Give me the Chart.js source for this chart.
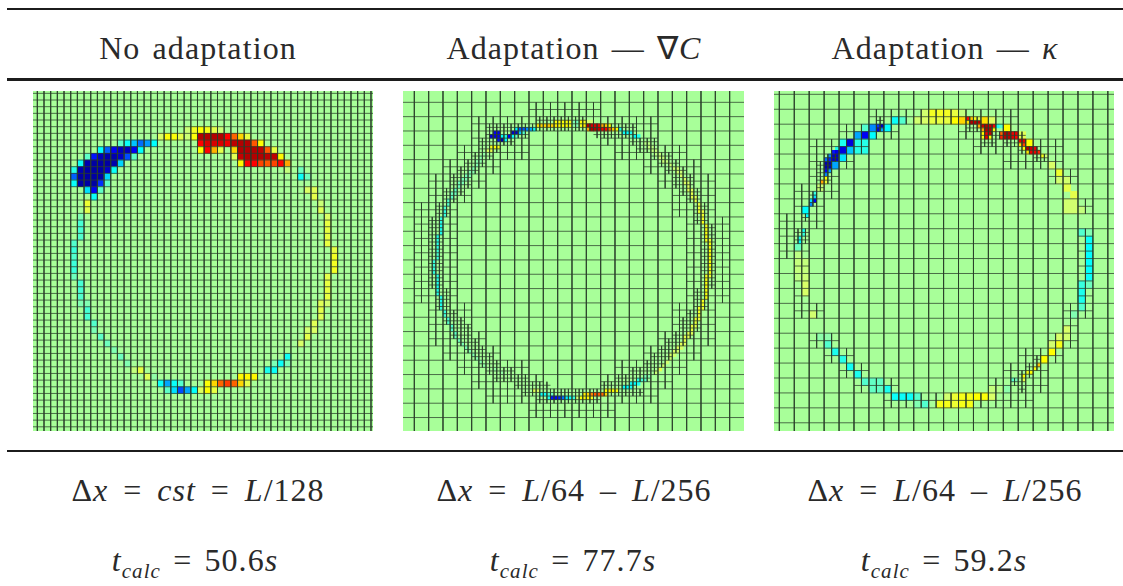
<!DOCTYPE html>
<html>
<head>
<meta charset="utf-8">
<title>Adaptation</title>
<script src="https://cdn.jsdelivr.net/npm/chart.js@4/dist/chart.umd.js"></script>
<style>
  html, body { margin: 0; padding: 0; background: #fff; }
  body { position: relative; width: 1123px; height: 586px; overflow: hidden; font-family: "Liberation Serif", serif; color: #2a2a2a; }
  .rule { position: absolute; left: 7px; right: 0; background: #1c1c1c; }
  canvas { position: absolute; background: #a8ff99; }
  .t { position: absolute; white-space: nowrap; transform: translateX(-50%); font-size: 32px; line-height: 36px; letter-spacing: 1.1px; word-spacing: 3px; }
  .m { word-spacing: 6px; letter-spacing: 1px; }
  .t sub { font-size: 21px; line-height: 0; font-style: italic; }
</style>
</head>
<body>
<div class="rule" style="top:8px;height:2px"></div>
<div class="rule" style="top:78px;height:3px"></div>
<div class="rule" style="top:450px;height:2px"></div>

<div class="t" style="left:198px;top:30px">No adaptation</div>
<div class="t" style="left:574px;top:30px">Adaptation — ∇<i>C</i></div>
<div class="t" style="left:945px;top:30px">Adaptation — <i>κ</i></div>

<div class="t m" style="left:198px;top:472px">Δ<i>x</i> = <i>cst</i> = <i>L</i>/128</div>
<div class="t m" style="left:574px;top:472px">Δ<i>x</i> = <i>L</i>/64 – <i>L</i>/256</div>
<div class="t m" style="left:945px;top:472px">Δ<i>x</i> = <i>L</i>/64 – <i>L</i>/256</div>

<div class="t" style="left:195px;top:542px"><i>t</i><sub>calc</sub> = 50.6<i>s</i></div>
<div class="t" style="left:573px;top:542px"><i>t</i><sub>calc</sub> = 77.7<i>s</i></div>
<div class="t" style="left:944px;top:542px"><i>t</i><sub>calc</sub> = 59.2<i>s</i></div>

<canvas id="uniform" width="340" height="340" style="left:33px;top:91px"></canvas>
<canvas id="gradC" width="341" height="340" style="left:403px;top:91px"></canvas>
<canvas id="kappa" width="340" height="340" style="left:774px;top:91px"></canvas>

<script>
// cells are [col, row, value], value -1 (dark blue) .. 0 (background) .. 1 (dark red)
const uniformCells = [
  [22,5,.1],[23,5,.28],[24,5,.35],[25,5,.3],[26,5,.2],[27,5,.1],
  [18,6,.15],[19,6,.33],[20,6,.33],[21,6,.2],[22,6,.1],[23,6,.33],[24,6,.95],[25,6,.95],[26,6,.95],[27,6,.95],[28,6,.75],[29,6,.6],[30,6,.42],[31,6,.22],
  [12,7,-.18],[13,7,-.33],[14,7,-.45],[15,7,-.6],[16,7,-.52],[17,7,-.35],[24,7,.75],[25,7,.85],[26,7,.85],[27,7,.85],[28,7,.8],[29,7,.92],[30,7,.95],[31,7,.95],[32,7,.62],[33,7,.35],
  [9,8,-.35],[10,8,-.62],[11,8,-.8],[12,8,-.92],[13,8,-.92],[14,8,-.8],[15,8,-.35],[24,8,.35],[25,8,.75],[26,8,.48],[27,8,.2],[29,8,.42],[30,8,.95],[31,8,.95],[32,8,.95],[33,8,.92],[34,8,.62],[35,8,.22],
  [7,9,-.18],[8,9,-.75],[9,9,-.92],[10,9,-.95],[11,9,-.95],[12,9,-.9],[13,9,-.65],[14,9,-.18],[29,9,.18],[30,9,.9],[31,9,.95],[32,9,.95],[33,9,.95],[34,9,.93],[35,9,.92],[36,9,.36],
  [6,10,-.33],[7,10,-.95],[8,10,-.97],[9,10,-.97],[10,10,-.97],[11,10,-.95],[12,10,-.42],[30,10,.36],[31,10,.75],[32,10,.75],[33,10,.65],[34,10,.62],[35,10,.65],[36,10,.75],[37,10,.5],
  [5,11,-.28],[6,11,-.95],[7,11,-.97],[8,11,-.97],[9,11,-.97],[10,11,-.9],[11,11,-.33],[37,11,.08],[39,11,-.15],
  [5,12,-.62],[6,12,-.97],[7,12,-.97],[8,12,-.97],[9,12,-.97],[10,12,-.42],[39,12,-.33],[40,12,-.15],
  [5,13,-.33],[6,13,-.97],[7,13,-.97],[8,13,-.97],[9,13,-.7],[10,13,-.18],
  [7,14,-.4],[8,14,-.8],[9,14,-.18],[40,14,.15],[41,14,.18],
  [8,15,-.33],[41,15,.2],
  [7,16,.25],[42,16,.1],[7,17,.2],[42,17,.18],
  [6,18,-.1],[43,18,.15],[6,19,-.22],[43,19,.22],[6,20,-.22],[43,20,.22],[6,21,-.2],[43,21,.22],
  [5,22,-.2],[43,22,.22],[5,23,-.24],[44,23,.22],[5,24,-.2],[44,24,.28],[5,25,-.24],[44,25,.28],[5,26,-.24],[44,26,.28],
  [5,27,-.15],[43,27,.2],[6,28,-.22],[43,28,.22],[6,29,-.22],[43,29,.22],[6,30,-.2],[43,30,.22],
  [6,31,-.1],[7,31,-.1],[42,31,.18],[43,31,.12],[7,32,-.22],[42,32,.2],[7,33,-.22],[42,33,.18],
  [8,34,-.2],[41,34,.18],[8,35,-.12],[41,35,.15],[40,35,.12],[9,36,-.18],[40,36,.2],[10,37,-.15],[39,37,.14],
  [11,38,-.1],[12,39,-.15],[37,39,-.32],[13,40,-.1],[35,40,-.12],[36,40,-.33],[37,40,-.12],
  [14,41,.08],[15,41,.22],[34,41,-.3],[35,41,-.33],
  [16,42,.18],[17,42,-.06],[30,42,.36],[31,42,.36],[32,42,.36],
  [18,43,-.33],[19,43,-.5],[20,43,-.33],[21,43,-.2],[25,43,.34],[26,43,.42],[27,43,.6],[28,43,.66],[29,43,.6],[30,43,.42],[31,43,.2],
  [19,44,-.18],[20,44,-.4],[21,44,-.65],[22,44,-.5],[23,44,-.34],[24,44,.16],[25,44,.34],[26,44,.22]
];

// gradient panel: columns and rows counted in finest cells, four to a base cell
const gradCells = [
  [39,5,.33],[40,5,.33],[41,5,.33],[42,5,.33],[43,5,.3],[44,5,-.1],[45,5,-.15],[46,5,.35],[47,5,.3],[48,5,.12],[49,5,.1],
  [34,6,.4],[35,6,.42],[36,6,.42],[37,6,.45],[38,6,.42],[39,6,.38],[40,6,.35],[41,6,.35],[42,6,.35],[43,6,.3],[44,6,-.05],[45,6,-.1],[46,6,.3],[47,6,.38],[48,6,.95],[49,6,.85],[50,6,.85],[51,6,.8],[52,6,.5],[53,6,.45],[54,6,.35],
  [28,7,-.35],[29,7,-.65],[30,7,-.65],[31,7,-.55],[32,7,-.5],[33,7,-.35],[48,7,.5],[49,7,.95],[50,7,.95],[51,7,.9],[52,7,.78],[53,7,.75],[54,7,.6],[55,7,.45],[56,7,.35],[57,7,-.3],
  [22,8,-.8],[23,8,-.8],[27,8,-.9],[28,8,-.9],[29,8,-.45],[30,8,-.2],[58,8,-.33],[59,8,-.35],[60,8,-.3],
  [21,9,-.85],[22,9,-.85],[23,9,-.8],[24,9,-.35],[25,9,-.3],[26,9,-.8],[27,9,-.35],[28,9,-.15],[60,9,-.15],[61,9,-.35],[62,9,-.3],
  [23,10,-.75],[24,10,-.95],[25,10,-.35],
  [21,12,.3],[22,12,.35],[23,12,.3],[20,13,.15],[21,13,.2]
];
const gradRingLeft = [
  [19,14,-.06],[18,15,-.08],[17,16,-.08],[18,16,-.06],[17,17,-.1],[16,18,-.1],[15,19,-.1],[16,19,-.08],[14,20,-.12],[15,20,-.1],[13,21,-.12],[14,21,-.1],[12,22,-.14],[13,22,-.12],[12,23,-.15],[11,24,-.18],[10,25,-.15],[11,25,-.15],[10,26,-.18],[9,27,-.2],[9,28,-.2],[8,29,-.22],[8,30,-.26],[8,31,-.25],[7,32,-.26],[7,33,-.28],[7,34,-.3],[7,35,-.3],[7,36,-.3],[6,37,-.28],[6,38,-.28],[6,39,-.28],[6,40,-.26],[6,41,-.24],[6,42,-.22],[6,43,-.24],
  [5,44,-.24],[5,45,-.24],[5,46,-.26],[5,47,-.26],[6,48,-.28],[6,49,-.28],[6,50,-.3],[6,51,-.3],[6,52,-.3],[6,53,-.28],[7,54,-.28],[7,55,-.3],[7,56,-.3],[7,57,-.26],[8,58,-.25],[8,59,-.22],[9,60,-.22],[9,61,-.2],[10,62,-.2],[10,63,-.18],[11,64,-.18],[11,65,-.15],[12,66,-.15],[13,67,-.12],[14,68,-.12],[15,69,-.1],[16,70,-.1],[17,71,-.08],[18,72,-.08],[19,73,-.06],[22,74,-.05],[24,75,-.05],
  [33,80,.18],[34,80,.15],[35,81,-.33],[36,81,-.33],[37,81,-.22],[38,81,-.15],
  [37,82,-.3],[38,82,-.75],[39,82,-.78],[40,82,-.72],[41,82,-.6],[42,82,-.38],[43,82,-.33],[44,82,-.25],[45,82,.1],[46,82,.33],[47,82,.36],[48,82,.36],[49,82,.3],
  [47,81,.38],[48,81,.42],[49,81,.55],[50,81,.62],[51,81,.62],[52,81,.6],[53,81,.42],
  [53,80,.35],[54,80,.36],[55,80,.36],[56,80,.33],[58,79,-.33],[59,79,-.35],[60,79,-.3],[60,78,-.33],[61,78,-.35],[62,78,-.3],[62,77,-.28],[63,77,-.22],[64,77,-.18],[64,76,-.12],[65,76,-.08]
];
const gradRingRight = [
  [64,11,.05],[65,11,.06],[65,12,.08],[66,12,.06],[66,13,.08],[67,13,.08],[67,14,.06],[68,14,.08],[68,15,.1],[69,15,.08],[69,16,.1],[70,16,.08],[71,17,.1],[72,18,.1],[73,18,.12],[73,19,.12],[74,19,.1],[74,20,.14],[75,21,.15],[75,22,.16],[76,22,.14],[76,23,.16],[76,24,.18],[77,24,.16],[77,25,.2],[77,26,.2],[78,26,.18],[78,27,.22],[79,28,.22],[79,29,.24],[79,30,.25],[80,30,.22],[80,31,.26],[80,32,.28],[80,33,.3],[81,34,.3],[81,35,.32],[81,36,.33],[81,37,.33],[81,38,.3],[82,38,.25],[82,39,.33],[82,40,.33],[82,41,.34],[82,42,.34],[82,43,.34],
  [82,44,.34],[82,45,.34],[82,46,.33],[82,47,.33],[81,48,.28],[82,48,.25],[81,49,.33],[81,50,.33],[81,51,.33],[81,52,.33],[81,53,.33],[81,54,.33],[80,55,.3],[80,56,.3],[79,57,.28],[80,57,.25],[79,58,.28],[79,59,.26],[78,60,.25],[79,60,.22],[78,61,.24],[77,62,.22],[78,62,.2],[77,63,.22],[76,64,.2],[77,64,.18],[75,65,.2],[76,65,.18],[75,66,.2],[74,67,.18],[75,67,.16],[73,68,.16],[74,68,.14],[72,69,.14],[73,69,.12],[71,70,.14],[72,70,.12],[71,71,.12],[70,72,.12],[69,73,.12],[68,74,.2],[67,75,.1]
];

// kappa panel: [col, row, size, value], counted in finest cells
const kappaCells = [
  [36,6,2,.12],[38,4,2,.12],[40,4,2,.28],[42,4,2,.28],[44,4,2,.28],[46,4,2,.22],[48,4,2,.08],
  [38,6,2,.14],[40,6,2,.22],[42,6,2,.22],[44,6,2,.22],[46,6,2,.35],[48,6,2,.42],
  [50,6,1,.75],[51,6,1,.45],[50,7,1,.4],[51,7,1,.95],[52,7,1,.95],[53,7,1,.95],[52,6,1,.3],[53,6,1,.18],[54,6,2,.4],[56,6,2,.15],
  [53,8,1,.5],[54,8,1,.9],[55,8,1,.95],[56,8,1,.9],[57,8,1,.75],[58,8,1,-.3],[59,8,1,-.2],[60,8,2,.35],
  [54,9,1,.5],[55,9,1,.95],[56,9,1,.95],[57,9,1,.35],[54,10,1,.35],[55,10,1,.8],[56,10,1,.9],[54,11,1,.3],[55,11,1,.8],[56,11,1,.35],
  [59,10,1,.6],[60,10,1,.95],[61,10,1,.95],[62,10,1,.8],[63,10,1,.8],[64,10,2,.18],
  [59,11,1,.7],[60,11,1,.95],[61,11,1,.95],[62,11,1,.85],[63,11,1,.75],
  [64,12,1,.8],[65,12,1,.8],[66,12,2,.35],[64,13,1,.4],[65,13,1,.65],
  [65,14,1,.35],[66,14,1,.95],[67,14,1,.9],[68,14,1,.8],[66,15,1,.4],[67,15,1,.8],[68,15,1,.8],[69,15,1,.7],
  [70,16,1,.3],[71,16,1,.1],[72,18,2,.14],[74,20,2,.26],[74,22,2,.12],[76,22,2,.12],[76,24,2,.2],[78,26,2,.2],
  [76,28,4,.12],[80,30,2,.08],
  [80,36,2,-.2],[82,36,2,-.1],[82,38,2,-.33],[82,40,2,-.35],[82,42,2,-.35],[82,44,2,-.35],[82,46,2,-.35],[82,48,2,-.33],
  [80,50,2,-.25],[82,50,2,-.15],[80,52,2,-.3],[80,54,2,-.3],[80,56,2,-.2],[78,58,2,-.1],
  [22,8,2,-.2],[24,8,2,-.55],[26,8,1,-.7],[27,8,1,-.9],[26,9,1,-.85],[27,9,1,-.5],[28,8,2,-.35],[30,6,2,-.33],[32,6,2,-.2],
  [20,10,2,-.5],[22,10,2,-.8],[24,10,2,-.35],[16,12,2,-.3],[18,12,2,-.85],[20,12,4,-.28],
  [16,14,2,-.85],[18,14,2,-.45],[15,14,1,-.3],[14,15,1,-.75],[15,15,1,-.85],[14,16,2,-.9],[16,16,2,-.4],[13,16,1,-.55],[12,17,1,-.6],[13,17,1,-.75],
  [12,18,2,-.95],[14,18,2,-.5],[12,20,1,-.8],[13,20,1,-.5],[12,21,1,-.55],
  [12,22,1,.35],[11,23,1,.5],[12,23,1,.25],[10,24,2,.1],
  [9,26,1,-.25],[9,27,1,-.4],[8,28,1,-.4],[9,28,1,-.8],[8,29,1,-.55],[6,30,2,-.35],[7,32,1,-.35],
  [6,36,1,-.3],[6,37,1,-.25],[5,38,1,-.3],[5,39,1,-.35],[4,40,2,-.15],[4,42,2,.06],
  [4,44,4,.08],[4,48,2,.06],[6,48,2,.1],[6,50,2,.14],[6,52,2,.14],[8,58,2,.12],
  [10,64,2,-.07],[12,64,2,-.07],[12,66,2,-.2],[14,68,2,-.3],[16,70,2,-.28],[18,72,2,-.32],[20,74,2,-.3],[22,76,2,-.2],[24,76,4,-.17],
  [28,78,2,-.3],[30,80,2,-.33],[32,80,2,-.33],[34,80,2,-.33],[36,80,2,-.2],[38,82,2,-.2],[36,82,2,-.1],
  [42,82,2,.3],[44,80,2,.12],[44,82,2,.3],[46,80,2,.25],[46,82,2,.25],[48,80,4,.3],[52,80,2,.35],[54,80,2,.33],[56,80,2,.14],
  [56,78,2,.08],[58,78,2,.04],[60,78,2,-.07],[62,76,1,-.18],[63,76,1,-.12],
  [65,75,1,.35],[66,74,1,.3],[67,74,1,.35],[68,73,1,.35],[69,72,1,.45],[65,76,1,.2],[70,70,2,.35],[72,68,2,.35],[74,66,2,.3],[72,66,2,.12],[74,64,2,.14],[76,62,2,.14],[76,64,2,.12]
];

// refined blocks: [row, firstCol, lastCol] in base cells, then in half cells
const gradHalf = [
  [0,8,12],[1,4,16],[2,4,7],[2,13,16],[3,3,7],[3,14,18],[4,2,5],[4,16,19],[5,1,4],[5,17,20],[6,1,3],[6,18,20],[7,0,2],[7,18,20],
  [8,0,2],[8,19,21],[9,0,2],[9,19,21],[10,0,2],[10,19,21],[11,0,2],[11,19,21],[12,0,2],[12,19,21],[13,0,2],[13,19,21],
  [14,1,3],[14,18,20],[15,1,3],[15,18,20],[16,1,4],[16,17,20],[17,2,5],[17,16,19],[18,3,7],[18,14,18],[19,4,8],[19,13,17],[20,5,16],[21,8,13]
];
const gradQuarter = [
  [2,17,23],[3,10,30],[4,10,15],[4,25,30],[5,9,13],[5,30,33],[6,9,11],[6,31,33],[7,8,10],[7,33,35],[8,7,9],[8,34,36],[9,6,8],[9,35,37],
  [10,5,7],[10,36,38],[11,5,7],[11,36,38],[12,4,6],[12,37,39],[13,4,5],[13,38,39],[14,3,4],[14,39,40],[15,3,4],[15,39,40],
  [16,2,3],[16,39,40],[17,2,3],[17,40,41],[18,2,3],[18,40,41],[19,2,3],[19,40,41],[20,2,3],[20,40,41],[21,2,3],[21,40,41],
  [22,2,3],[22,40,41],[23,2,3],[23,40,41],[24,2,3],[24,40,41],[25,2,3],[25,40,41],[26,3,4],[26,39,40],[27,3,4],[27,39,40],
  [28,3,4],[28,39,40],[29,4,5],[29,38,39],[30,4,6],[30,37,39],[31,5,7],[31,37,39],[32,5,7],[32,36,38],[33,6,8],[33,35,37],
  [34,7,9],[34,34,36],[35,8,10],[35,33,35],[36,9,11],[36,32,34],[37,10,13],[37,30,33],[38,11,15],[38,28,32],[39,14,18],[39,26,30],
  [40,15,31],[41,17,25]
];
const kappaHalf = [
  [1,6,15],[2,4,7],[2,12,15],[3,2,5],[3,13,18],[4,2,4],[4,15,18],[5,2,3],[5,18,19],[6,1,3],[7,1,2],[7,20,20],[8,0,2],[9,0,1],[9,20,20],[10,0,1],[10,20,20],
  [11,1,1],[11,20,20],[12,1,1],[12,20,20],[13,1,1],[13,20,20],[14,1,2],[14,19,20],[15,19,19],[16,2,3],[16,18,19],[17,3,4],[17,16,18],[18,4,5],[18,15,17],[19,5,7],[19,14,17],[20,7,16]
];
const kappaQuarter = [
  [3,13,13],[3,25,26],[4,13,13],[4,25,26],[4,27,28],[5,27,28],[5,29,32],[6,27,28],[6,30,32],[7,32,34],[8,34,35],
  [8,6,7],[9,5,6],[10,5,6],[11,5,6],[12,5,5],[13,4,4],[14,4,4],[16,3,3],[18,2,3],[19,2,3],
  [35,34,34],[36,33,34],[37,32,33],[38,31,32],[39,32,32]
];

// colours of the value scale
const colourStops = [
  [-1, [0,0,150]], [-.78, [0,0,255]], [-.35, [0,255,255]], [-.15, [110,255,190]], [0, [168,255,153]],
  [.15, [220,255,100]], [.35, [255,255,0]], [.5, [255,165,0]], [.75, [255,0,0]], [1, [160,0,0]]
];

function colourOf(v) {
  for (let i = 1; i < colourStops.length; i++) {
    if (v <= colourStops[i][0]) {
      const [a, ca] = colourStops[i - 1], [b, cb] = colourStops[i];
      const f = (v - a) / (b - a);
      return "rgb(" + ca.map((c, k) => Math.round(c + (cb[k] - c) * f)).join(",") + ")";
    }
  }
  return "rgb(160,0,0)";
}

// line breaks between mesh segments are NaN points
function meshPoints(segments) {
  const pts = [];
  segments.forEach((s) => pts.push({ x: s[0], y: s[1] }, { x: s[2], y: s[3] }, { x: NaN, y: NaN }));
  return pts;
}

function uniformLines(firstLine, lastLine, step, range) {
  const out = [];
  for (let l = firstLine; l <= lastLine; l += step) {
    out.push([l, range.yMin, l, range.yMax], [range.xMin, l, range.xMax, l]);
  }
  return out;
}

// a run splits each block of size `block` in four
function runLines(runs, block) {
  const out = [];
  runs.forEach(([row, c0, c1]) => {
    out.push([c0 * block, (row + 0.5) * block, (c1 + 1) * block, (row + 0.5) * block]);
    for (let c = c0; c <= c1; c++) out.push([(c + 0.5) * block, row * block, (c + 0.5) * block, (row + 1) * block]);
  });
  return out;
}

function makePanel(id, range, cells, lines) {
  const canvas = document.getElementById(id);
  const unit = canvas.width / (range.xMax - range.xMin);
  const sizes = [...new Set(cells.map((c) => c[2]))];
  const datasets = sizes.map((size, i) => {
    const own = cells.filter((c) => c[2] === size);
    return {
      type: "bar",
      data: own.map((c) => ({ x: c[0] + size / 2, y: [c[1], c[1] + size], v: c[3] })),
      backgroundColor: own.map((c) => colourOf(c[3])),
      barThickness: size * unit,
      grouped: false,
      borderWidth: 0,
      order: 10 - i
    };
  });
  datasets.push({
    type: "line",
    data: meshPoints(lines),
    borderColor: "#2a3d2a",
    borderWidth: 0.75,
    pointRadius: 0,
    tension: 0,
    spanGaps: false,
    order: 0
  });
  return new Chart(canvas, {
    type: "bar",
    data: { datasets },
    options: {
      responsive: false,
      animation: false,
      events: [],
      layout: { padding: 0 },
      plugins: { legend: { display: false }, tooltip: { enabled: false } },
      scales: {
        x: { type: "linear", display: false, offset: false, min: range.xMin, max: range.xMax },
        y: { type: "linear", display: false, reverse: true, min: range.yMin, max: range.yMax }
      }
    }
  });
}

const uniformRange = { xMin: -0.65, xMax: 50.3, yMin: -0.35, yMax: 50.63 };
const gradRange = { xMin: -3.16, xMax: 92, yMin: -3.16, yMax: 91.76 };
const kappaRange = { xMin: -1.43, xMax: 89.65, yMin: -0.89, yMax: 90.2 };

makePanel("uniform", uniformRange,
  uniformCells.map((c) => [c[0], c[1], 1, c[2]]),
  uniformLines(0, 50, 1, uniformRange));

makePanel("gradC", gradRange,
  gradCells.concat(gradRingLeft, gradRingRight).map((c) => [c[0], c[1], 1, c[2]]),
  uniformLines(0, 88, 4, gradRange).concat(runLines(gradHalf, 4), runLines(gradQuarter, 2)));

makePanel("kappa", kappaRange,
  kappaCells,
  uniformLines(0, 88, 4, kappaRange).concat(runLines(kappaHalf, 4), runLines(kappaQuarter, 2)));
</script>
</body>
</html>
